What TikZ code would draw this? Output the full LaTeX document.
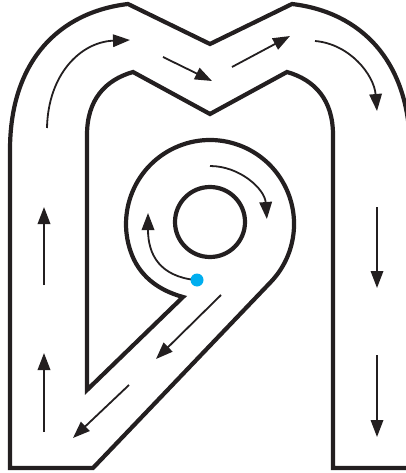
\documentclass[tikz,border=0pt]{standalone}
\usetikzlibrary{arrows.meta}
\definecolor{wallc}{HTML}{231F20}
\definecolor{dotblue}{HTML}{00AEEF}
\tikzset{
  wall/.style={draw=wallc, line width=4.2pt, line join=miter, miter limit=10},
  flow/.style={draw=wallc, line width=1.8pt, -{Triangle[length=17pt,width=12.5pt]}}
}
\begin{document}
\begin{tikzpicture}[x=1pt,y=-1pt]
\useasboundingbox (0,0) rectangle (406,473);
\clip (0,0) rectangle (406,473);
% main wall (one continuous line)
\path[wall] (420,468) -- (333,468) -- (333,135)
  .. controls (333,100) and (315,80) .. (287,72)
  -- (210,114) -- (133,72)
  .. controls (105,80) and (87,100) .. (87,135)
  -- (87,390) -- (183,297)
  .. controls (165,292) and (145,282) .. (133.9,259.5)
  arc[start angle=155, end angle=404.2, radius=84]
  -- (93,468) -- (10,468) -- (10,150)
  .. controls (10,60) and (60,12) .. (128,4)
  -- (210,44) -- (292,4)
  .. controls (360,12) and (410,60) .. (410,150) -- (410,480);
% inner circle
\path[wall] (210,222) circle[radius=35];
% arrows
\draw[flow] (47,128) .. controls (48,75) and (80,42) .. (130,40);
\draw[flow] (163,57) -- (212,81);
\draw[flow] (232,67) -- (290,36);
\draw[flow] (315,41) .. controls (350,44) and (374,75) .. (377,111);
\draw[flow] (377,207) -- (377,288);
\draw[flow] (377,355) -- (377,437);
\draw[flow] (44,285) -- (44,207);
\draw[flow] (44,432) -- (44,353);
\draw[flow] (221,295) -- (156,359);
\draw[flow] (129,385) -- (73,438);
\draw[flow] (210,166) arc[start angle=-90, end angle=-4, radius=57];
\draw[flow] (195,280) .. controls (160,276) and (148,255) .. (148,213);
\fill[dotblue] (197,280) circle[radius=6.5];
\end{tikzpicture}
\end{document}
